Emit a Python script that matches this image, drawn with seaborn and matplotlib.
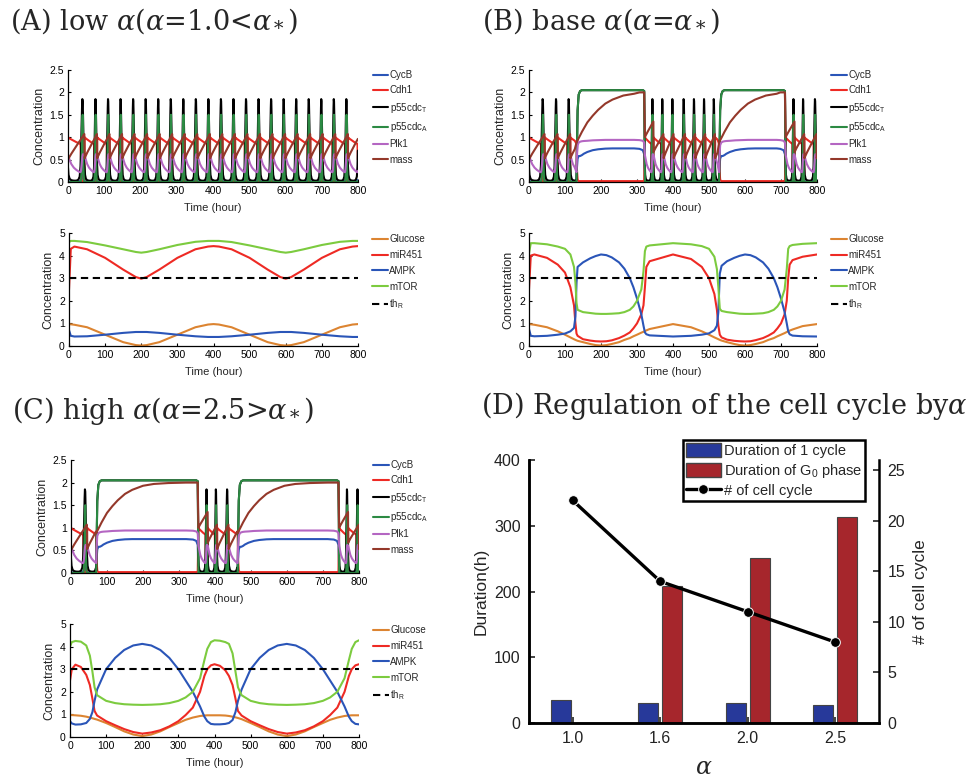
import numpy as np
import pandas as pd
import matplotlib
matplotlib.use('Agg')
import matplotlib.pyplot as plt
import seaborn as sns
from matplotlib.patches import Patch
from matplotlib.lines import Line2D

sns.set_theme(style='ticks')
plt.rcParams['font.family'] = ['Liberation Sans', 'DejaVu Sans']
plt.rcParams['mathtext.fontset'] = 'custom'
plt.rcParams['mathtext.rm'] = 'Liberation Sans'
plt.rcParams['mathtext.it'] = 'Liberation Sans:italic'

######  Data

# --- top panels: one cell cycle, as seen in panel A (phase 0 = division)
cycle_species = ['CycB', 'Cdh1', 'p55cdc$_\\mathrm{T}$', 'p55cdc$_\\mathrm{A}$', 'Plk1', 'mass']
cycle_phase = [0.00, 0.03, 0.10, 0.20, 0.35, 0.50, 0.62, 0.70, 0.75, 0.78, 0.81, 0.84, 0.86, 0.88, 0.90, 0.92, 0.95, 0.98]
cycb_cycle = [0.03, 0.02, 0.01, 0.01, 0.01, 0.01, 0.01, 0.02, 0.03, 0.05, 0.10, 0.15, 0.17, 0.15, 0.10, 0.06, 0.04, 0.03]
cdh1_cycle = [1.00, 0.99, 0.97, 0.95, 0.92, 0.89, 0.87, 0.86, 0.85, 0.50, 0.05, 0.02, 0.01, 0.01, 0.01, 0.01, 0.02, 0.05]
p55t_cycle = [0.32, 0.16, 0.07, 0.04, 0.03, 0.03, 0.05, 0.12, 0.35, 0.70, 1.20, 1.65, 1.85, 1.80, 1.50, 1.10, 0.62, 0.40]
p55a_cycle = [0.00, 0.00, 0.00, 0.00, 0.00, 0.00, 0.00, 0.00, 0.00, 0.02, 0.20, 0.85, 1.35, 1.50, 1.00, 0.40, 0.06, 0.00]
plk1_cycle = [0.60, 0.57, 0.49, 0.40, 0.32, 0.27, 0.24, 0.22, 0.22, 0.25, 0.35, 0.48, 0.56, 0.60, 0.62, 0.62, 0.61, 0.60]
mass_ramp = [0.00, 0.04, 0.12, 0.23, 0.38, 0.53, 0.65, 0.72, 0.77, 0.80, 0.83, 0.86, 0.88, 0.90, 0.92, 0.95, 0.98, 1.00]

# --- G0 phase: hours after entry, and hours before exit
g0_rise_h = [0, 1, 3, 6, 10, 15, 20, 30, 45, 60, 80, 100, 130, 160, 200, 250]
cycb_g0 = [0.02, 0.30, 0.52, 0.58, 0.58, 0.60, 0.63, 0.67, 0.71, 0.73, 0.745, 0.75, 0.75, 0.75, 0.75, 0.75]
cdh1_g0 = [0.85, 0.30, 0.05, 0.02, 0.02, 0.02, 0.02, 0.02, 0.02, 0.02, 0.02, 0.02, 0.02, 0.02, 0.02, 0.02]
p55t_g0 = [0.05, 0.60, 1.60, 1.95, 2.03, 2.05, 2.05, 2.05, 2.05, 2.05, 2.05, 2.05, 2.05, 2.05, 2.05, 2.05]
p55a_g0 = [0.00, 0.60, 1.60, 1.95, 2.03, 2.05, 2.05, 2.05, 2.05, 2.05, 2.05, 2.05, 2.05, 2.05, 2.05, 2.05]
plk1_g0 = [0.22, 0.55, 0.82, 0.88, 0.90, 0.91, 0.915, 0.92, 0.93, 0.935, 0.94, 0.94, 0.94, 0.94, 0.94, 0.94]
mass_g0 = [0.88, 0.90, 0.93, 0.98, 1.04, 1.12, 1.19, 1.33, 1.48, 1.61, 1.75, 1.84, 1.93, 1.97, 1.99, 2.00]
g0_tail_h = [-15, -6, -2]
cycb_tail = [0.74, 0.71, 0.62]
cdh1_tail = [0.02, 0.02, 0.03]
p55t_tail = [2.05, 2.05, 2.03]
p55a_tail = [2.05, 2.05, 2.03]
plk1_tail = [0.935, 0.92, 0.88]
mass_tail = [2.00, 2.00, 2.00]

# cycles: (start, end, mass at start, mass at division)
cycles_A = [(0, 46, 0.50, 1.07)] + [(s, s + 34.6, 0.53, 1.07) for s in
            [46, 80.6, 115.2, 149.8, 184.4, 219, 253.6, 288.2, 322.8, 357.4, 392, 426.6,
             461.2, 495.8, 530.4, 565, 599.6, 634.2, 668.8, 703.4, 738, 772.6]]
cycles_B = [(0, 44, 0.50, 1.07), (44, 80, 0.53, 1.07), (80, 115, 0.53, 1.07), (115, 150, 0.53, 1.07),
            (322, 346, 1.00, 1.35), (346, 374, 0.67, 1.07), (374, 402, 0.53, 1.07), (402, 434, 0.53, 1.07),
            (434, 462, 0.53, 1.07), (462, 490, 0.53, 1.07), (490, 517, 0.53, 1.07), (517, 550, 0.53, 1.07),
            (713, 738, 1.00, 1.35), (738, 765, 0.67, 1.07), (765, 799, 0.53, 1.07), (799, 834, 0.53, 1.07)]
g0_B = [(132, 322), (528, 713)]
cycles_C = [(0, 45, 0.50, 1.07), (45, 80, 0.53, 1.07),
            (354, 380, 1.00, 1.35), (380, 406, 0.67, 1.07), (406, 438, 0.53, 1.07), (438, 472, 0.53, 1.07),
            (745, 770, 1.00, 1.35), (770, 800, 0.67, 1.07), (800, 835, 0.53, 1.07)]
g0_C = [(70, 354), (463, 745)]

# --- bottom panels
sig_species = ['Glucose', 'miR451', 'AMPK', 'mTOR', 'th$_\\mathrm{R}$']
th_time = [0, 800]
th_R = [3, 3]

tA = [0, 5, 15, 50, 100, 150, 185, 200, 215, 250, 300, 350, 385, 400, 415, 450, 500, 550, 585, 600, 615, 650, 700, 750, 785, 800]
glucose_A = [0.97, 0.96, 0.94, 0.83, 0.50, 0.17, 0.04, 0.02, 0.04, 0.17, 0.50, 0.83, 0.95, 0.97, 0.95, 0.83, 0.50, 0.17, 0.04, 0.02, 0.04, 0.17, 0.50, 0.83, 0.95, 0.97]
mir_A = [2.50, 4.30, 4.40, 4.28, 3.90, 3.38, 3.05, 2.98, 3.05, 3.38, 3.90, 4.28, 4.40, 4.42, 4.40, 4.28, 3.90, 3.38, 3.05, 2.98, 3.05, 3.38, 3.90, 4.28, 4.40, 4.42]
ampk_A = [0.70, 0.45, 0.42, 0.43, 0.50, 0.58, 0.62, 0.62, 0.62, 0.58, 0.50, 0.43, 0.40, 0.40, 0.40, 0.43, 0.50, 0.58, 0.62, 0.62, 0.62, 0.58, 0.50, 0.43, 0.40, 0.40]
mtor_A = [4.60, 4.65, 4.65, 4.60, 4.45, 4.28, 4.16, 4.13, 4.16, 4.28, 4.47, 4.61, 4.65, 4.65, 4.65, 4.60, 4.45, 4.28, 4.16, 4.13, 4.16, 4.28, 4.47, 4.61, 4.65, 4.65]

tB = [0, 5, 15, 50, 80, 100, 115, 125, 129, 132, 135, 150, 170, 185, 200, 215, 230, 250, 265, 280, 290, 300, 312, 318, 322, 326, 335, 400,
      450, 480, 500, 515, 522, 526, 530, 535, 550, 570, 585, 600, 615, 630, 650, 665, 680, 690, 700, 710, 716, 720, 724, 732, 760, 800]
glucose_B = [0.97, 0.96, 0.94, 0.83, 0.65, 0.50, 0.38, 0.30, 0.27, 0.25, 0.23, 0.17, 0.09, 0.04, 0.02, 0.04, 0.09, 0.17, 0.27, 0.35, 0.43, 0.50, 0.59, 0.63, 0.66, 0.69, 0.75, 0.97,
             0.83, 0.65, 0.50, 0.38, 0.33, 0.30, 0.27, 0.24, 0.17, 0.09, 0.04, 0.02, 0.04, 0.09, 0.17, 0.27, 0.35, 0.43, 0.50, 0.57, 0.62, 0.65, 0.68, 0.73, 0.88, 0.97]
mir_B = [2.50, 4.00, 4.05, 3.90, 3.60, 3.25, 2.60, 1.80, 1.00, 0.55, 0.45, 0.30, 0.24, 0.21, 0.20, 0.21, 0.25, 0.35, 0.46, 0.60, 0.78, 1.00, 1.40, 1.80, 2.60, 3.50, 3.75, 4.05,
         3.85, 3.50, 3.00, 2.30, 1.60, 0.90, 0.50, 0.38, 0.28, 0.23, 0.21, 0.20, 0.21, 0.26, 0.35, 0.46, 0.60, 0.78, 1.00, 1.40, 2.00, 3.00, 3.60, 3.80, 3.95, 4.05]
ampk_B = [0.75, 0.45, 0.43, 0.45, 0.50, 0.55, 0.65, 0.80, 1.30, 2.80, 3.50, 3.70, 3.88, 3.98, 4.05, 4.02, 3.92, 3.70, 3.42, 3.00, 2.60, 2.10, 1.40, 0.90, 0.60, 0.52, 0.47, 0.42,
          0.45, 0.50, 0.56, 0.70, 0.90, 1.50, 3.20, 3.55, 3.75, 3.90, 3.99, 4.05, 4.02, 3.92, 3.70, 3.42, 3.00, 2.60, 2.10, 1.50, 1.00, 0.65, 0.52, 0.46, 0.43, 0.42]
mtor_B = [4.10, 4.55, 4.55, 4.50, 4.40, 4.30, 4.05, 3.50, 2.80, 1.90, 1.60, 1.50, 1.46, 1.43, 1.42, 1.42, 1.43, 1.45, 1.50, 1.60, 1.75, 2.00, 2.50, 3.30, 4.20, 4.40, 4.45, 4.55,
          4.50, 4.42, 4.30, 3.95, 3.40, 2.60, 1.65, 1.55, 1.50, 1.46, 1.43, 1.42, 1.42, 1.43, 1.45, 1.50, 1.60, 1.75, 2.00, 2.50, 3.40, 4.30, 4.42, 4.47, 4.52, 4.55]

tC = [0, 5, 15, 30, 45, 55, 62, 68, 75, 100, 125, 150, 175, 200, 225, 250, 275, 300, 320, 340, 360, 372, 380, 390, 400, 415, 430, 440, 450, 458, 465,
      475, 500, 525, 550, 575, 600, 625, 650, 675, 700, 720, 740, 760, 772, 780, 790, 800]
glucose_C = [0.97, 0.97, 0.96, 0.94, 0.90, 0.86, 0.83, 0.80, 0.77, 0.62, 0.44, 0.25, 0.11, 0.04, 0.11, 0.25, 0.44, 0.62, 0.76, 0.86, 0.93, 0.95, 0.96, 0.96, 0.96, 0.96, 0.95, 0.93, 0.90, 0.87, 0.84,
             0.79, 0.62, 0.44, 0.25, 0.11, 0.04, 0.11, 0.25, 0.44, 0.62, 0.76, 0.86, 0.93, 0.95, 0.96, 0.96, 0.96]
mir_C = [2.50, 3.00, 3.20, 3.10, 2.75, 2.30, 1.70, 1.15, 0.95, 0.70, 0.52, 0.35, 0.22, 0.15, 0.20, 0.30, 0.47, 0.70, 0.97, 1.30, 2.00, 2.70, 3.00, 3.17, 3.22, 3.15, 2.95, 2.70, 2.30, 1.70, 1.15,
         0.95, 0.70, 0.52, 0.35, 0.22, 0.15, 0.20, 0.30, 0.47, 0.70, 0.97, 1.30, 2.00, 2.70, 3.00, 3.17, 3.22]
ampk_C = [0.70, 0.60, 0.55, 0.56, 0.62, 0.80, 1.10, 1.60, 2.10, 3.00, 3.50, 3.85, 4.05, 4.12, 4.05, 3.85, 3.50, 3.00, 2.50, 2.00, 1.35, 0.90, 0.70, 0.58, 0.56, 0.56, 0.58, 0.62, 0.75, 1.10, 1.60,
          2.10, 3.00, 3.50, 3.85, 4.05, 4.12, 4.05, 3.85, 3.50, 3.00, 2.50, 2.00, 1.35, 0.90, 0.70, 0.58, 0.56]
mtor_C = [4.00, 4.20, 4.25, 4.22, 4.05, 3.60, 2.90, 2.20, 1.85, 1.60, 1.50, 1.45, 1.43, 1.42, 1.43, 1.45, 1.50, 1.60, 1.75, 2.00, 2.60, 3.40, 3.90, 4.20, 4.28, 4.26, 4.20, 4.12, 3.70, 2.90, 2.20,
          1.85, 1.60, 1.50, 1.45, 1.43, 1.42, 1.43, 1.45, 1.50, 1.60, 1.75, 2.00, 2.60, 3.40, 3.90, 4.20, 4.28]

# --- panel D
alpha_labels = ['1.0', '1.6', '2.0', '2.5']
cycle_duration = [35, 31, 30, 28]
g0_duration = [0, 208, 251, 313]
n_cycles = [22, 14, 11, 8]

######  Colors
cc_colors = dict(zip(cycle_species, ['#2a55b8', '#ee2a24', '#000000', '#2c8a43', '#b466c2', '#94382a']))
sig_colors = dict(zip(sig_species, ['#dc8431', '#ee2a24', '#2a55b8', '#7ccb3f', '#000000']))
bar_blue = '#27399a'
bar_red = '#a6262c'

######  Build time series for the cell-cycle panels
cycle_vals = dict(zip(cycle_species[:5], [cycb_cycle, cdh1_cycle, p55t_cycle, p55a_cycle, plk1_cycle]))
g0_vals = dict(zip(cycle_species, [cycb_g0, cdh1_g0, p55t_g0, p55a_g0, plk1_g0, mass_g0]))
tail_vals = dict(zip(cycle_species, [cycb_tail, cdh1_tail, p55t_tail, p55a_tail, plk1_tail, mass_tail]))


def cell_cycle_frame(cycles, g0_spans):
    segs = [('c',) + c for c in cycles] + [('g',) + g for g in g0_spans]
    segs.sort(key=lambda s: s[1])
    parts = []
    for i, seg in enumerate(segs):
        clip = segs[i + 1][1] if i + 1 < len(segs) else 800.5
        if seg[0] == 'c':
            _, start, end, m0, m1 = seg
            t = start + np.array(cycle_phase) * (end - start)
            vals = {k: np.array(v) for k, v in cycle_vals.items()}
            vals['mass'] = m0 + np.array(mass_ramp) * (m1 - m0)
        else:
            _, start, end = seg
            rise = np.array(g0_rise_h, dtype=float)
            keep = rise < (end - start) - 20
            t = np.concatenate([start + rise[keep], end + np.array(g0_tail_h)])
            vals = {k: np.concatenate([np.array(g0_vals[k])[keep], tail_vals[k]]) for k in cycle_species}
        m = (t < clip) & (t <= 800.5)
        for k in cycle_species:
            parts.append(pd.DataFrame({'time': t[m], 'value': vals[k][m], 'species': k}))
    return pd.concat(parts, ignore_index=True)


def signal_frame(t, glc, mir, ampk, mtor):
    parts = [pd.DataFrame({'time': t, 'value': v, 'species': k})
             for k, v in zip(sig_species[:4], [glc, mir, ampk, mtor])]
    parts.append(pd.DataFrame({'time': th_time, 'value': th_R, 'species': sig_species[4]}))
    return pd.concat(parts, ignore_index=True)


######  Figure
W, H = 973, 778
fig = plt.figure(figsize=(W / 100, H / 100), dpi=100)


def px_axes(l, t, r, b):
    return fig.add_axes([l / W, 1 - b / H, (r - l) / W, (b - t) / H])


def style_time_axis(ax, ymax, step, ticklabels):
    ax.set_xlim(0, 800)
    ax.set_ylim(0, ymax)
    ax.set_xticks(range(0, 801, 100))
    ax.set_yticks(np.arange(0, ymax + 0.01, step))
    ax.set_yticklabels(ticklabels)
    ax.tick_params(direction='in', length=2.5, width=0.8, labelsize=7.5, pad=3, colors='black')
    ax.set_xlabel('Time (hour)', fontsize=8, labelpad=5)
    ax.set_ylabel('Concentration', fontsize=9, labelpad=3)
    for s in ['left', 'bottom']:
        ax.spines[s].set_linewidth(0.9)
        ax.spines[s].set_color('black')
    sns.despine(ax=ax)


def draw_cycle_panel(ax, df):
    sns.lineplot(data=df, x='time', y='value', hue='species', hue_order=cycle_species,
                 palette=cc_colors, estimator=None, sort=False, lw=1.5, ax=ax)
    style_time_axis(ax, 2.5, 0.5, ['0', '0.5', '1', '1.5', '2', '2.5'])
    sns.move_legend(ax, 'upper left', bbox_to_anchor=(1.05, 1.0), frameon=False, title=None,
                    fontsize=7, handlelength=1.6, handletextpad=0.15, labelspacing=0.55,
                    borderpad=0, borderaxespad=0)


def draw_signal_panel(ax, df):
    dashes = {k: '' for k in sig_species}
    dashes[sig_species[4]] = (3.5, 2.2)
    sns.lineplot(data=df, x='time', y='value', hue='species', hue_order=sig_species,
                 style='species', style_order=sig_species, dashes=dashes,
                 palette=sig_colors, estimator=None, sort=False, lw=1.5, ax=ax)
    style_time_axis(ax, 5, 1, ['0', '1', '2', '3', '4', '5'])
    sns.move_legend(ax, 'upper left', bbox_to_anchor=(1.05, 0.99), frameon=False, title=None,
                    fontsize=7, handlelength=1.6, handletextpad=0.15, labelspacing=0.6,
                    borderpad=0, borderaxespad=0)


axA1 = px_axes(68, 70, 358, 182)
axA2 = px_axes(69, 233, 358, 346)
axB1 = px_axes(529, 70, 817, 182)
axB2 = px_axes(529, 233, 817, 346)
axC1 = px_axes(71, 460, 359, 573)
axC2 = px_axes(70, 624, 359, 737)
axD = px_axes(529, 460, 879, 723)

draw_cycle_panel(axA1, cell_cycle_frame(cycles_A, []))
draw_cycle_panel(axB1, cell_cycle_frame(cycles_B, g0_B))
draw_cycle_panel(axC1, cell_cycle_frame(cycles_C, g0_C))
draw_signal_panel(axA2, signal_frame(tA, glucose_A, mir_A, ampk_A, mtor_A))
draw_signal_panel(axB2, signal_frame(tB, glucose_B, mir_B, ampk_B, mtor_B))
draw_signal_panel(axC2, signal_frame(tC, glucose_C, mir_C, ampk_C, mtor_C))

######  Panel D
dfD = pd.DataFrame({'alpha': alpha_labels * 2,
                    'hours': cycle_duration + g0_duration,
                    'measure': ['Duration of 1 cycle'] * 4 + ['Duration of G$_0$ phase'] * 4})
sns.barplot(data=dfD, x='alpha', y='hours', hue='measure', palette=[bar_blue, bar_red], saturation=1,
            width=0.55, gap=0.16, edgecolor='#444444', linewidth=0.8, legend=False, ax=axD)
axD2 = axD.twinx()
sns.lineplot(x=list(range(len(alpha_labels))), y=n_cycles, color='black', lw=2.4, marker='o',
             markersize=7, markeredgecolor='white', markeredgewidth=0.7, ax=axD2)
axD.set_xlim(-0.5, 3.5)
axD.set_ylim(0, 400)
axD.set_yticks([0, 100, 200, 300, 400])
axD2.set_ylim(0, 26)
axD2.set_yticks([0, 5, 10, 15, 20, 25])
for a in (axD, axD2):
    a.tick_params(direction='in', length=4, width=1.2, labelsize=11.5, colors='#222222', pad=6)
    for s in a.spines.values():
        s.set_linewidth(1.8)
        s.set_color('black')
    a.spines['top'].set_visible(False)
axD.spines['right'].set_visible(False)
axD.set_xlabel('$\\alpha$', fontsize=17, math_fontfamily='dejavuserif', labelpad=8)
axD.set_ylabel('Duration(h)', fontsize=12.5, labelpad=4)
axD2.set_ylabel('# of cell cycle', fontsize=12.5, labelpad=6)

handles = [Patch(facecolor=bar_blue, edgecolor='#444444'),
           Patch(facecolor=bar_red, edgecolor='#444444'),
           Line2D([], [], color='black', lw=2.4, marker='o', markersize=7,
                  markeredgecolor='white', markeredgewidth=0.7)]
labels = ['Duration of 1 cycle', 'Duration of G$_0$ phase', '# of cell cycle']
leg = fig.legend(handles, labels, loc='upper left', bbox_to_anchor=(683 / W, 1 - 440 / H),
                 fontsize=10.5, frameon=True, fancybox=False, framealpha=1, edgecolor='black',
                 handlelength=2.4, handleheight=1.1, handletextpad=0.2, labelspacing=0.25,
                 borderpad=0.2, borderaxespad=0)
leg.get_frame().set_linewidth(1.8)

######  Panel titles
title_kw = dict(fontsize=19.5, family=['DejaVu Serif'], math_fontfamily='dejavuserif',
                va='baseline', ha='left')
fig.text(10 / W, 1 - 30 / H, '(A) low $\\alpha$($\\alpha$=1.0<$\\alpha_*$)', **title_kw)
fig.text(482 / W, 1 - 30 / H, '(B) base $\\alpha$($\\alpha$=$\\alpha_*$)', **title_kw)
fig.text(12 / W, 1 - 419 / H, '(C) high $\\alpha$($\\alpha$=2.5>$\\alpha_*$)', **title_kw)
fig.text(481 / W, 1 - 414 / H, '(D) Regulation of the cell cycle by$\\alpha$', **title_kw)

fig.savefig('out.png', dpi=100)
